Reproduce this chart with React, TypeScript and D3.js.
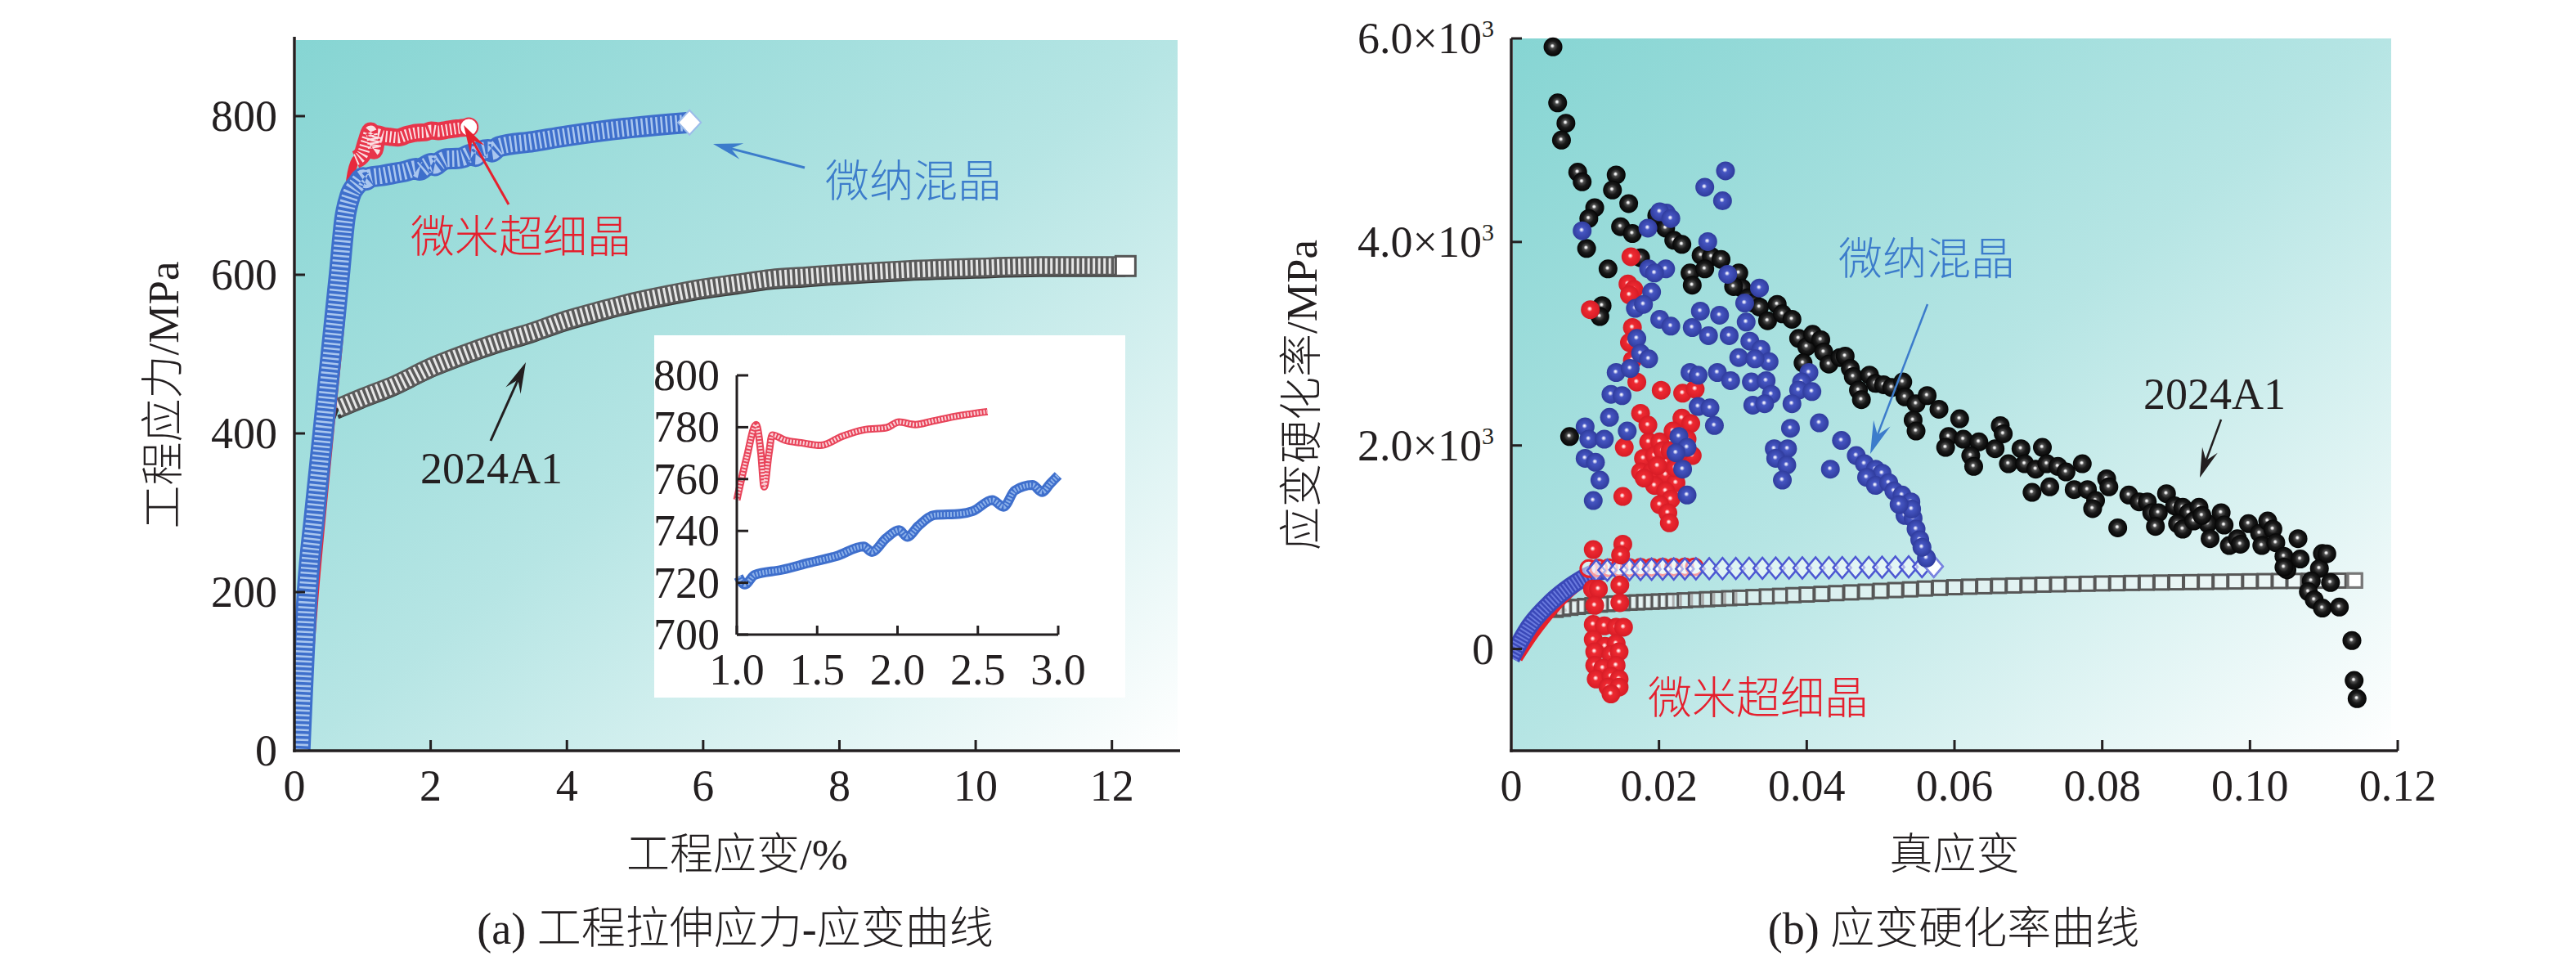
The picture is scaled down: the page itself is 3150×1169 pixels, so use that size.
import React from 'react';
import * as d3 from 'd3';

type P = [number, number];

// ---------- Panel (a): engineering stress-strain ----------
const strainTicksA = [2, 4, 6, 8, 10, 12];
const strainLabelsA = [0, 2, 4, 6, 8, 10, 12];
const stressTicksA = [200, 400, 600, 800];
const stressLabelsA = [0, 200, 400, 600, 800];

// 微纳混晶 (blue)
const blueA: P[] = [
  [0.08, 0], [0.19, 200], [0.3, 300], [0.42, 400], [0.54, 500], [0.66, 600], [0.74, 670], [0.82, 700],
  [0.92, 714], [1.01, 722.4], [1.05, 719.3], [1.11, 723], [1.28, 725], [1.45, 727.7], [1.62, 730.3],
  [1.79, 734], [1.84, 731.9], [1.93, 737.2], [2.01, 740.3], [2.06, 737.7], [2.13, 741.9], [2.23, 746.1],
  [2.39, 746.6], [2.47, 747.7], [2.59, 751.9], [2.66, 749.3], [2.73, 755.6], [2.84, 757.7], [2.9, 755],
  [2.95, 758.2], [3.0, 761.4], [3.5, 768], [4.0, 775], [4.5, 781], [5.0, 786], [5.5, 790], [5.8, 792],
];
// 微米超细晶 (red)
const redA: P[] = [
  [0.12, 0], [0.3, 200], [0.52, 400], [0.7, 560], [0.78, 650], [0.82, 720], [0.9, 745], [1.0, 752],
  [1.06, 768], [1.12, 781], [1.15, 770], [1.17, 757], [1.2, 770], [1.22, 777], [1.3, 775], [1.4, 774],
  [1.52, 773], [1.66, 776.6], [1.79, 779], [1.93, 779.8], [2.01, 782], [2.11, 781], [2.22, 782.4],
  [2.39, 784.5], [2.56, 786],
];
// 2024A1 (black)
const blackElasticA: P[] = [[0.05, 0], [0.2, 150], [0.35, 280], [0.5, 390], [0.64, 432]];
const blackA: P[] = [
  [0.64, 432], [1.0, 445], [1.5, 462], [2.0, 483], [2.5, 500], [3.0, 515], [3.5, 528], [4.0, 543],
  [4.5, 555], [5.0, 566], [5.5, 575], [6.0, 583], [6.5, 589], [7.0, 595], [7.5, 598], [8.0, 601],
  [9.0, 606], [10.0, 609], [11.0, 611], [12.2, 611],
];
const insetXTicks = [1.0, 1.5, 2.0, 2.5, 3.0];
const insetYTicks = [700, 720, 740, 760, 780, 800];

// ---------- Panel (b): strain hardening rate ----------
const strainTicksB = [0.02, 0.04, 0.06, 0.08, 0.1, 0.12];
const strainLabelsB = [0, 0.02, 0.04, 0.06, 0.08, 0.1, 0.12];
const rateLabelsB = [0, 2000, 4000, 6000];

const blueInitB: P[] = [[0.0, -90], [0.0025, 227], [0.0053, 455], [0.008, 615], [0.0108, 735], [0.0125, 770]];
const redInitB: P[] = [[0.0008, -90], [0.003, 150], [0.0055, 380], [0.008, 570], [0.0105, 700], [0.012, 760]];
const blackInitB: P[] = [[0.0004, -100], [0.0013, -27], [0.0057, 334], [0.0075, 385]];

const blackSquaresB: P[] = [
  [0.006, 385], [0.007, 395], [0.008, 405], [0.009, 414], [0.01, 422], [0.011, 430], [0.012, 436],
  [0.013, 442], [0.014, 447], [0.015, 451], [0.016, 455], [0.017, 458], [0.018, 461], [0.019, 464],
  [0.02, 467], [0.021, 470], [0.022, 473], [0.0235, 478], [0.025, 484], [0.0265, 489], [0.028, 494],
  [0.0295, 499], [0.031, 504], [0.0328, 510], [0.0346, 516], [0.0364, 522], [0.0382, 529], [0.04, 535],
  [0.042, 542], [0.044, 549], [0.046, 556], [0.048, 563], [0.05, 571], [0.052, 579], [0.054, 586],
  [0.056, 594], [0.058, 601], [0.06, 607], [0.062, 612], [0.064, 616], [0.066, 620], [0.068, 624],
  [0.07, 628], [0.072, 632], [0.074, 635], [0.076, 638], [0.078, 641], [0.08, 644], [0.082, 646],
  [0.084, 649], [0.086, 651], [0.088, 653], [0.09, 655], [0.092, 657], [0.094, 659], [0.096, 661],
  [0.098, 663], [0.1, 665], [0.102, 667], [0.104, 668], [0.106, 669], [0.108, 670], [0.11, 671],
  [0.112, 672], [0.1142, 673],
];
const blueDiamondsB: P[] = [
  [0.0115, 770], [0.013, 775], [0.0145, 778], [0.016, 780], [0.0175, 782], [0.019, 784], [0.0205, 785],
  [0.022, 786], [0.0235, 787], [0.025, 788], [0.0268, 789], [0.0286, 790], [0.0304, 791], [0.0322, 792],
  [0.034, 793], [0.0358, 794], [0.0376, 795], [0.0394, 796], [0.0412, 797], [0.043, 798], [0.0448, 799],
  [0.0466, 800], [0.0484, 801], [0.0502, 803], [0.052, 805], [0.0538, 807], [0.0556, 809], [0.0572, 811],
];
const redRingsB: P[] = [
  [0.0105, 790], [0.0118, 795], [0.0132, 798], [0.0146, 800], [0.016, 801], [0.0175, 802], [0.019, 803],
  [0.0205, 804], [0.022, 805], [0.0235, 806], [0.0248, 807],
];

const blackDotsB: P[] = [
  [0.00565, 5917], [0.00628, 5367], [0.0074, 5167], [0.0068, 5001], [0.009, 4685], [0.0096, 4591],
  [0.0142, 4658], [0.0137, 4511], [0.0113, 4337], [0.0105, 4230], [0.0159, 4377], [0.0148, 4150],
  [0.0164, 4083], [0.0102, 3936], [0.0131, 3735], [0.0123, 3374], [0.012, 3267], [0.0175, 3845],
  [0.0079, 2088], [0.0197, 4258], [0.0209, 4136], [0.022, 4016], [0.0231, 3976], [0.0257, 3869],
  [0.0271, 3856], [0.0284, 3829], [0.0242, 3695], [0.0262, 3735], [0.0245, 3575], [0.0308, 3695],
  [0.0312, 3547], [0.0301, 3561], [0.032, 3450], [0.0328, 3400], [0.0336, 3360], [0.0347, 3226],
  [0.036, 3387], [0.0367, 3293], [0.038, 3240], [0.0389, 3052], [0.04, 2971], [0.0408, 3092],
  [0.0419, 3039], [0.0395, 2811], [0.0423, 2918], [0.043, 2800], [0.0445, 2864], [0.0452, 2878],
  [0.0459, 2757], [0.0463, 2677], [0.047, 2544], [0.0474, 2450], [0.0485, 2691], [0.0493, 2610],
  [0.0504, 2597], [0.0515, 2570], [0.053, 2624], [0.0533, 2477], [0.0548, 2410], [0.0544, 2249],
  [0.0548, 2142], [0.0563, 2490], [0.0579, 2356], [0.0607, 2262], [0.0592, 2088], [0.0588, 1981],
  [0.0612, 2061], [0.0633, 2035], [0.0655, 1968], [0.0622, 1901], [0.0626, 1794], [0.0662, 2195],
  [0.0666, 2115], [0.069, 1968], [0.0673, 1820], [0.0695, 1820], [0.0719, 1981], [0.071, 1767],
  [0.0725, 1820], [0.074, 1794], [0.0751, 1740], [0.0773, 1820], [0.0705, 1539], [0.0729, 1593],
  [0.0762, 1566], [0.078, 1566], [0.0791, 1459], [0.0787, 1379], [0.0806, 1673], [0.0809, 1593],
  [0.0821, 1191], [0.0836, 1513], [0.085, 1446], [0.0861, 1446], [0.0867, 1339], [0.0876, 1339],
  [0.0872, 1205], [0.0887, 1526], [0.0898, 1406], [0.0909, 1392], [0.0917, 1339], [0.0931, 1392],
  [0.0943, 1232], [0.0902, 1232], [0.0909, 1178], [0.0924, 1258], [0.0935, 1312], [0.0946, 1084],
  [0.0961, 1339], [0.0965, 1218], [0.0972, 1017], [0.0983, 1084], [0.0987, 1030], [0.0998, 1232],
  [0.1013, 1138], [0.1016, 1017], [0.1024, 1258], [0.1031, 1178], [0.1035, 1044], [0.1046, 911],
  [0.105, 777], [0.1065, 1084], [0.1068, 884], [0.1046, 804], [0.1098, 938], [0.1094, 791],
  [0.1083, 670], [0.1079, 563], [0.1087, 483], [0.1098, 402], [0.1109, 653], [0.1121, 412],
  [0.1138, 83], [0.1141, -309], [0.1145, -488], [0.1104, 935],
];
const redDotsB: P[] = [
  [0.0162, 3855], [0.0107, 3334], [0.0158, 3587], [0.0166, 3534], [0.016, 3480], [0.0164, 3159],
  [0.016, 3012], [0.0164, 2838], [0.017, 2623], [0.0203, 2543], [0.0232, 2514], [0.0249, 2554],
  [0.0175, 2316], [0.0231, 2269], [0.0243, 2216], [0.0186, 2035], [0.0201, 2035], [0.0219, 2142],
  [0.0238, 2062], [0.0153, 1981], [0.0179, 1874], [0.0194, 1901], [0.0209, 1847], [0.0227, 1874],
  [0.0245, 1901], [0.0175, 1740], [0.019, 1740], [0.0209, 1713], [0.0223, 1633], [0.0194, 1606],
  [0.0209, 1553], [0.0216, 1472], [0.0201, 1419], [0.0212, 1338], [0.0214, 1240], [0.0151, 1499],
  [0.0185, 2200], [0.0205, 1950], [0.0222, 1780], [0.0198, 1800], [0.0215, 1950], [0.023, 1950],
  [0.018, 1680], [0.0151, 1030], [0.0148, 923], [0.0111, 977],
  [0.011, 589], [0.0118, 589], [0.0147, 629], [0.0113, 428], [0.0147, 455], [0.0111, 241],
  [0.0126, 227], [0.0142, 214], [0.0152, 214], [0.0111, 93], [0.0127, 27], [0.0142, 53],
  [0.0113, -27], [0.0135, -54], [0.0146, -27], [0.0113, -161], [0.0124, -188], [0.0142, -161],
  [0.0115, -295], [0.0135, -268], [0.0146, -295], [0.0131, -375], [0.0146, -375], [0.0135, -442],
];
const blueDotsB: P[] = [
  [0.029, 4699], [0.0262, 4538], [0.0286, 4404], [0.021, 4284], [0.0201, 4297], [0.0216, 4230],
  [0.0185, 4136], [0.0096, 4110], [0.0266, 4003], [0.0186, 3735], [0.0209, 3735], [0.0194, 3695],
  [0.0293, 3682], [0.0336, 3547], [0.019, 3508], [0.0168, 3347], [0.0179, 3387], [0.0316, 3400],
  [0.0318, 3213], [0.0256, 3320], [0.0282, 3280], [0.0201, 3240], [0.0216, 3173], [0.0245, 3159],
  [0.0267, 3079], [0.0295, 3079], [0.017, 3052], [0.0175, 2905], [0.0186, 2851], [0.0323, 3025],
  [0.0338, 2945], [0.0349, 2824], [0.0308, 2864], [0.033, 2851], [0.0142, 2717], [0.0161, 2757],
  [0.0242, 2717], [0.0253, 2690], [0.0279, 2717], [0.0297, 2637], [0.0325, 2624], [0.0345, 2637],
  [0.0403, 2717], [0.0393, 2624], [0.0389, 2544], [0.0407, 2530], [0.038, 2410], [0.0135, 2503],
  [0.015, 2490], [0.0352, 2503], [0.0327, 2396], [0.0343, 2410], [0.0253, 2383], [0.0269, 2369],
  [0.0275, 2196], [0.0133, 2276], [0.0157, 2142], [0.0417, 2222], [0.0378, 2169], [0.01, 2183],
  [0.0105, 2062], [0.0126, 2062], [0.0447, 2049], [0.0467, 1901], [0.0478, 1821], [0.0227, 2089],
  [0.0238, 1981], [0.0223, 1928], [0.0356, 1968], [0.0374, 1968], [0.0358, 1874], [0.0373, 1807],
  [0.0367, 1660], [0.01, 1874], [0.0114, 1834], [0.0232, 1767], [0.0432, 1767], [0.0493, 1767],
  [0.0502, 1727], [0.0481, 1687], [0.0493, 1607], [0.0511, 1634], [0.0518, 1553], [0.0529, 1513],
  [0.0541, 1446], [0.0533, 1312], [0.0544, 1285], [0.0548, 1178], [0.012, 1660], [0.0238, 1513],
  [0.0111, 1459], [0.0542, 1375], [0.0553, 1074], [0.0562, 894], [0.0525, 1420], [0.0556, 1000],
];

const W = 3150;
const H = 1169;
const SERIF = "'Liberation Serif', 'Times New Roman', 'Noto Sans CJK SC', serif";
const INK = '#231f20';
const BLUE_TXT = '#3c7ccb';
const RED_TXT = '#e5202e';
const FS = 54;
const CJK_W = 300;
const DOT_R = 11.5;

const xA = d3.scaleLinear().domain([0, 13]).range([360, 1443]);
const yA = d3.scaleLinear().domain([0, 900]).range([918, 45]);
const xI = d3.scaleLinear().domain([1, 3]).range([901, 1294]);
const yI = d3.scaleLinear().domain([700, 800]).range([776, 459]);
const xB = d3.scaleLinear().domain([0, 0.12]).range([1848, 2932]);
const yB = d3.scaleLinear().domain([-1000, 6000]).range([918, 47]);

function Arrow({ x1, y1, x2, y2, color, len = 34, hw = 10, sw = 3 }: any) {
  const dx = x2 - x1, dy = y2 - y1;
  const L = Math.hypot(dx, dy);
  const ux = dx / L, uy = dy / L;
  const nx = -uy, ny = ux;
  const bx = x2 - ux * len, by = y2 - uy * len;
  const mx = x2 - ux * len * 0.62, my = y2 - uy * len * 0.62;
  const head = `M${x2},${y2}L${bx + nx * hw},${by + ny * hw}L${mx},${my}L${bx - nx * hw},${by - ny * hw}Z`;
  return (
    <g>
      <line x1={x1} y1={y1} x2={mx} y2={my} stroke={color} strokeWidth={sw} />
      <path d={head} fill={color} />
    </g>
  );
}

function Band({ d, base, light, width, inner, dash }: any) {
  return (
    <g fill="none" strokeLinejoin="round">
      <path d={d} stroke={base} strokeWidth={width} />
      <path d={d} stroke={light} strokeWidth={inner} strokeDasharray={dash} />
    </g>
  );
}

export default function App() {
  const lineA = d3.line<P>().x((d) => xA(d[0])).y((d) => yA(d[1])).curve(d3.curveMonotoneX);
  const lineI = d3.line<P>().x((d) => xI(d[0])).y((d) => yI(d[1])).curve(d3.curveMonotoneX);
  const lineB = d3.line<P>().x((d) => xB(d[0])).y((d) => yB(d[1])).curve(d3.curveMonotoneX);

  const redPlateau = redA.filter((p) => p[0] >= 0.9);
  const redInset = redA.filter((p) => p[0] >= 1.0 && p[0] <= 3.0);
  const blueInset = blueA.filter((p) => p[0] >= 1.0 && p[0] <= 3.0);
  const bEnd = blueA[blueA.length - 1];
  const rEnd = redA[redA.length - 1];
  const kEnd = blackA[blackA.length - 1];
  const dEnd = blueDiamondsB[blueDiamondsB.length - 1];
  const sEnd = blackSquaresB[blackSquaresB.length - 1];

  const supLabel = (v: number) => (v === 0 ? ['0', ''] : [`${(v / 1000).toFixed(1)}×10`, '3']);

  return (
    <svg width={W} height={H} viewBox={`0 0 ${W} ${H}`} style={{ position: 'absolute', left: 0, top: 0, background: '#fff' }} fontFamily={SERIF}>
      <defs>
        <linearGradient id="bg" x1="0" y1="0" x2="1" y2="1">
          <stop offset="0" stopColor="#86d5d3" />
          <stop offset="0.5" stopColor="#b6e5e4" />
          <stop offset="1" stopColor="#ffffff" />
        </linearGradient>
        <radialGradient id="sphK" cx="0.5" cy="0.5" r="0.55" fx="0.46" fy="0.44">
          <stop offset="0" stopColor="#ffffff" />
          <stop offset="0.09" stopColor="#e6e6e6" />
          <stop offset="0.22" stopColor="#505050" />
          <stop offset="0.5" stopColor="#1a1a1a" />
          <stop offset="1" stopColor="#000" />
        </radialGradient>
        <radialGradient id="sphB" cx="0.5" cy="0.5" r="0.55" fx="0.46" fy="0.44">
          <stop offset="0" stopColor="#ffffff" />
          <stop offset="0.09" stopColor="#d8daf6" />
          <stop offset="0.25" stopColor="#4656c2" />
          <stop offset="1" stopColor="#2c3898" />
        </radialGradient>
        <radialGradient id="sphR" cx="0.5" cy="0.5" r="0.55" fx="0.46" fy="0.44">
          <stop offset="0" stopColor="#ffffff" />
          <stop offset="0.09" stopColor="#ffd6d6" />
          <stop offset="0.26" stopColor="#ee2a32" />
          <stop offset="1" stopColor="#d41a24" />
        </radialGradient>
        <clipPath id="clipA">
          <rect x={361} y={40} width={1085} height={877} />
        </clipPath>
        <clipPath id="clipB">
          <rect x={1849} y={40} width={1085} height={877} />
        </clipPath>
      </defs>
      <rect x={0} y={0} width={W} height={H} fill="#fff" />

      {/* ================= Panel (a) ================= */}
      <rect x={362} y={49} width={1078} height={869} fill="url(#bg)" />
      <g clipPath="url(#clipA)">
        {/* 2024A1 */}
        <path d={lineA(blackElasticA) || ''} fill="none" stroke="#333" strokeWidth={4} />
        <path d={lineA(blackA) || ''} fill="none" stroke="#3a3a3a" strokeWidth={5} transform="translate(0,11)" />
        <Band d={lineA(blackA)} base="#5a5a5a" light="#e6e6e6" width={24} inner={19} dash="3 3.5" />
        <rect x={xA(kEnd[0]) - 12} y={yA(kEnd[1]) - 12} width={24} height={24} fill="#fff" stroke="#555" strokeWidth={3} />
        {/* 微米超细晶 */}
        <path d={lineA(redA) || ''} fill="none" stroke="#e8283c" strokeWidth={10} />
        <Band d={lineA(redPlateau)} base="#e8344a" light="#fbe0e4" width={22} inner={14} dash="2 3" />
        {/* 微纳混晶 */}
        <Band d={lineA(blueA)} base="#3e6fcb" light="#a9c6ef" width={26} inner={20} dash="2.5 3.5" />
        <circle cx={xA(rEnd[0])} cy={yA(rEnd[1])} r={11} fill="#fff" stroke="#e8344a" strokeWidth={2} />
        <path
          d={`M${xA(bEnd[0]) - 14},${yA(bEnd[1])}L${xA(bEnd[0])},${yA(bEnd[1]) - 15}L${xA(bEnd[0]) + 14},${yA(bEnd[1])}L${xA(bEnd[0])},${yA(bEnd[1]) + 15}Z`}
          fill="#fff" stroke="#9cbcea" strokeWidth={2}
        />
      </g>

      {/* inset */}
      <rect x={800} y={410} width={576} height={443} fill="#fff" />
      <g>
        <Band d={lineI(redInset)} base="#e8445a" light="#fbd3d9" width={9} inner={5} dash="2 2" />
        <Band d={lineI(blueInset)} base="#3f6fcc" light="#8db2ea" width={12} inner={6} dash="2 2" />
      </g>
      <g stroke={INK} strokeWidth={3}>
        <line x1={901} y1={yI(800)} x2={901} y2={yI(700)} />
        <line x1={901} y1={yI(700)} x2={xI(3)} y2={yI(700)} />
        {insetYTicks.map((t) => (
          <line key={t} x1={901} x2={915} y1={yI(t)} y2={yI(t)} />
        ))}
        {insetXTicks.map((t) => (
          <line key={t} x1={xI(t)} x2={xI(t)} y1={yI(700)} y2={yI(700) - 11} />
        ))}
      </g>
      <g fontSize={FS} fill={INK}>
        {insetYTicks.map((t) => (
          <text key={t} x={880} y={yI(t) + 18} textAnchor="end">{t}</text>
        ))}
        {insetXTicks.map((t) => (
          <text key={t} x={xI(t)} y={837} textAnchor="middle">{t.toFixed(1)}</text>
        ))}
      </g>

      {/* axes (a) */}
      <g stroke={INK} strokeWidth={3.5}>
        <line x1={360} y1={yA(900)} x2={360} y2={yA(0) + 1.7} />
        <line x1={358.3} y1={yA(0)} x2={xA(13)} y2={yA(0)} />
        {strainTicksA.map((t) => (
          <line key={t} x1={xA(t)} x2={xA(t)} y1={yA(0)} y2={yA(0) - 13} strokeWidth={3} />
        ))}
        {stressTicksA.map((t) => (
          <line key={t} x1={360} x2={373} y1={yA(t)} y2={yA(t)} strokeWidth={3} />
        ))}
      </g>
      <g fontSize={FS} fill={INK}>
        {strainLabelsA.map((t) => (
          <text key={t} x={xA(t)} y={979} textAnchor="middle">{t}</text>
        ))}
        {stressLabelsA.map((t) => (
          <text key={t} x={339} y={yA(t) + 18} textAnchor="end">{t}</text>
        ))}
        <text x={xA(6.5)} y={1063} textAnchor="middle" fontSize={53} fontWeight={CJK_W}>工程应变/%</text>
        <text transform="translate(218,483) rotate(-90)" textAnchor="middle" fontSize={53} fontWeight={CJK_W}>工程应力/MPa</text>
        <text x={899} y={1154} textAnchor="middle" fontWeight={CJK_W}>(a) 工程拉伸应力-应变曲线</text>
      </g>
      {/* annotations (a) */}
      <text x={1009} y={241} fontSize={FS} fill={BLUE_TXT} fontWeight={CJK_W}>微纳混晶</text>
      <Arrow x1={984} y1={205} x2={872} y2={176} color={BLUE_TXT} len={36} hw={10} />
      <text x={502} y={309} fontSize={FS} fill={RED_TXT} fontWeight={CJK_W}>微米超细晶</text>
      <Arrow x1={622} y1={250} x2={567} y2={153} color={RED_TXT} len={34} hw={10} />
      <text x={514} y={591} fontSize={FS} fill={INK}>2024A1</text>
      <Arrow x1={600} y1={539} x2={643} y2={443} color={INK} len={38} hw={10} />

      {/* ================= Panel (b) ================= */}
      <rect x={1850} y={47} width={1074} height={871} fill="url(#bg)" />
      <g clipPath="url(#clipB)">
        <path d={lineB(blackInitB) || ''} fill="none" stroke="#333" strokeWidth={4} />
        {blackSquaresB.map((p, i) => (
          <rect key={i} x={xB(p[0]) - 8.5} y={yB(p[1]) - 8.5} width={17} height={17} fill="#f2f6f6" fillOpacity={0.55} stroke="#575757" strokeWidth={3} />
        ))}
        <rect x={xB(sEnd[0]) - 8.5} y={yB(sEnd[1]) - 8.5} width={17} height={17} fill="#fff" stroke="#777" strokeWidth={3} />
        <path d={lineB(redInitB) || ''} fill="none" stroke="#e8202a" strokeWidth={14} />
        <Band d={lineB(blueInitB)} base="#3a48b8" light="#6a7ade" width={22} inner={16} dash="2 2.5" />
        {redRingsB.map((p, i) => (
          <circle key={i} cx={xB(p[0])} cy={yB(p[1])} r={10} fill="#fff" fillOpacity={0.5} stroke="#e8202a" strokeWidth={3} />
        ))}
        {blueDiamondsB.map((p, i) => {
          const cx = xB(p[0]), cy = yB(p[1]);
          return (
            <path key={i} d={`M${cx - 11},${cy}L${cx},${cy - 13}L${cx + 11},${cy}L${cx},${cy + 13}Z`} fill="#fff" fillOpacity={0.55} stroke="#4d58d2" strokeWidth={2.5} />
          );
        })}
        <path d={`M${xB(dEnd[0]) - 11},${yB(dEnd[1])}L${xB(dEnd[0])},${yB(dEnd[1]) - 13}L${xB(dEnd[0]) + 11},${yB(dEnd[1])}L${xB(dEnd[0])},${yB(dEnd[1]) + 13}Z`} fill="#fff" stroke="#7a84e0" strokeWidth={2.5} />
        {blackDotsB.map((p, i) => (
          <circle key={'k' + i} cx={xB(p[0])} cy={yB(p[1])} r={DOT_R} fill="url(#sphK)" />
        ))}
        {redDotsB.map((p, i) => (
          <circle key={'r' + i} cx={xB(p[0])} cy={yB(p[1])} r={DOT_R} fill="url(#sphR)" />
        ))}
        {blueDotsB.map((p, i) => (
          <circle key={'b' + i} cx={xB(p[0])} cy={yB(p[1])} r={DOT_R} fill="url(#sphB)" />
        ))}
      </g>

      {/* axes (b) */}
      <g stroke={INK} strokeWidth={3.5}>
        <line x1={1848} y1={yB(6000)} x2={1848} y2={yB(-1000) + 1.7} />
        <line x1={1846.3} y1={yB(-1000)} x2={xB(0.12)} y2={yB(-1000)} />
        {strainTicksB.map((t) => (
          <line key={t} x1={xB(t)} x2={xB(t)} y1={yB(-1000)} y2={yB(-1000) - 13} strokeWidth={3} />
        ))}
        {rateLabelsB.map((t) => (
          <line key={t} x1={1848} x2={1861} y1={yB(t)} y2={yB(t)} strokeWidth={3} />
        ))}
      </g>
      <g fontSize={FS} fill={INK}>
        {strainLabelsB.map((t) => (
          <text key={t} x={xB(t)} y={979} textAnchor="middle">{t === 0 ? '0' : t.toFixed(2)}</text>
        ))}
        {rateLabelsB.map((t) => {
          const [m, s] = supLabel(t);
          return (
            <text key={t} x={1827} y={yB(t) + 18} textAnchor="end">
              {m}
              {s ? <tspan dy={-20} fontSize={30}>{s}</tspan> : null}
            </text>
          );
        })}
        <text x={2390} y={1063} textAnchor="middle" fontSize={53} fontWeight={CJK_W}>真应变</text>
        <text transform="translate(1610,483) rotate(-90)" textAnchor="middle" fontSize={53} fontWeight={CJK_W}>应变硬化率/MPa</text>
        <text x={2389} y={1154} textAnchor="middle" fontWeight={CJK_W}>(b) 应变硬化率曲线</text>
      </g>
      {/* annotations (b) */}
      <text x={2248} y={336} fontSize={FS} fill={BLUE_TXT} fontWeight={CJK_W}>微纳混晶</text>
      <Arrow x1={2357} y1={372} x2={2287} y2={555} color={BLUE_TXT} len={40} hw={11} sw={2.5} />
      <text x={2621} y={500} fontSize={FS} fill={INK}>2024A1</text>
      <Arrow x1={2716} y1={513} x2={2690} y2={584} color={INK} len={36} hw={10} sw={2.5} />
      <text x={2015} y={873} fontSize={FS} fill={RED_TXT} fontWeight={CJK_W}>微米超细晶</text>
    </svg>
  );
}
